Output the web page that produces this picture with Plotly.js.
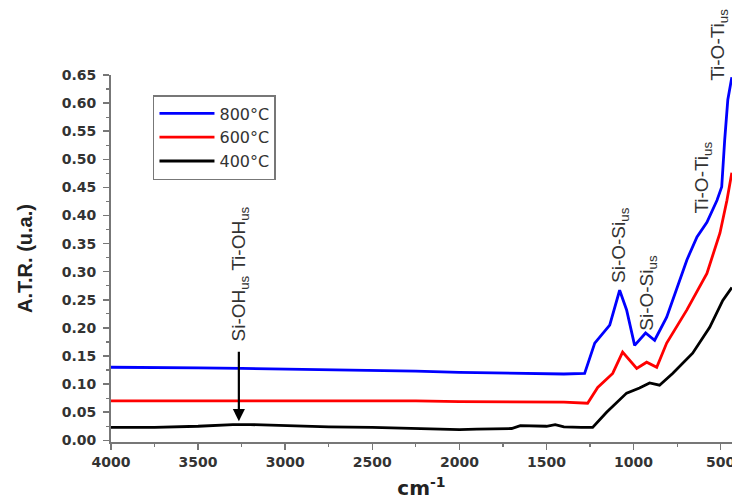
<!DOCTYPE html>
<html>
<head>
<meta charset="utf-8">
<script src="https://cdn.plot.ly/plotly-3.0.1.min.js"></script>
<style>html,body{margin:0;padding:0;background:#fff;}#chart{width:732px;height:500px;}</style>
</head>
<body>
<div id="chart"></div>
<script>
// Wavenumber (cm-1) and A.T.R. values
const wn800 = [4000, 3750, 3500, 3250, 3000, 2750, 2500, 2250, 2000, 1750, 1500, 1400, 1281, 1223, 1137, 1080, 1040, 994, 931, 879, 810, 694, 636, 579, 521, 494, 477, 459, 436];
const atr800 = [0.130, 0.130, 0.129, 0.128, 0.127, 0.125, 0.124, 0.123, 0.121, 0.120, 0.119, 0.118, 0.119, 0.173, 0.205, 0.267, 0.232, 0.169, 0.191, 0.178, 0.219, 0.321, 0.362, 0.388, 0.427, 0.451, 0.534, 0.606, 0.646];

const wn600 = [4000, 3750, 3500, 3250, 3000, 2750, 2500, 2250, 2000, 1750, 1500, 1400, 1264, 1206, 1120, 1063, 982, 925, 867, 810, 694, 579, 504, 464, 436];
const atr600 = [0.070, 0.070, 0.071, 0.071, 0.071, 0.070, 0.070, 0.070, 0.069, 0.069, 0.069, 0.068, 0.066, 0.094, 0.119, 0.157, 0.128, 0.139, 0.130, 0.173, 0.232, 0.297, 0.369, 0.427, 0.476];

const wn400 = [4000, 3750, 3500, 3300, 3200, 3000, 2750, 2500, 2250, 2000, 1900, 1700, 1650, 1500, 1450, 1400, 1300, 1235, 1155, 1040, 966, 908, 851, 776, 661, 563, 488, 436];
const atr400 = [0.023, 0.023, 0.025, 0.028, 0.028, 0.026, 0.024, 0.023, 0.021, 0.019, 0.020, 0.021, 0.026, 0.025, 0.028, 0.024, 0.023, 0.023, 0.050, 0.084, 0.093, 0.102, 0.098, 0.119, 0.155, 0.201, 0.249, 0.272];

const seriesNames = ['800°C', '600°C', '400°C'];
const xTickVals = [4000, 3500, 3000, 2500, 2000, 1500, 1000, 500];
const yTickVals = [0, 0.05, 0.10, 0.15, 0.20, 0.25, 0.30, 0.35, 0.40, 0.45, 0.50, 0.55, 0.60, 0.65];

// Band labels (x in cm-1, y in A.T.R. units)
const bandText = ['Si-OH<sub>us</sub> Ti-OH<sub>us</sub>', 'Si-O-Si<sub>us</sub>', 'Si-O-Si<sub>us</sub>', 'Ti-O-Ti<sub>us</sub>', 'Ti-O-Ti<sub>us</sub>'];
const bandX = [3262, 1074, 919, 603, 506];
const bandY = [0.296, 0.347, 0.262, 0.467, 0.703];
const arrowX = 3266, arrowY = 0.034;

const XRANGE = [4000, 435];
const YRANGE = [-0.003, 0.65];
const toPaperY = v => (v - YRANGE[0]) / (YRANGE[1] - YRANGE[0]);

const ARIAL = 'Arial, "Liberation Sans", sans-serif';
const WIDE = '"DejaVu Sans", Verdana, sans-serif';
const colors = ['#0000ff', '#ff0000', '#000000'];

const traces = [
  {x: wn800, y: atr800, name: seriesNames[0]},
  {x: wn600, y: atr600, name: seriesNames[1]},
  {x: wn400, y: atr400, name: seriesNames[2]}
].map((t, i) => Object.assign(t, {type: 'scatter', mode: 'lines', line: {color: colors[i], width: 2.8}}));

const annotations = bandText.map((t, i) => ({
  x: bandX[i], y: toPaperY(bandY[i]), xref: 'x', yref: 'paper', text: t, showarrow: false,
  textangle: -90, xanchor: 'center', yanchor: 'middle',
  font: {family: ARIAL, size: 19, color: '#333'}
}));
annotations.push({
  x: arrowX, y: arrowY, xref: 'x', yref: 'y', text: '', showarrow: true,
  ax: 0, ay: -71, arrowhead: 2, arrowsize: 1.1, arrowwidth: 2.2, arrowcolor: '#000'
});

const layout = {
  width: 732, height: 500,
  margin: {l: 111, r: 0, t: 75, b: 58},
  paper_bgcolor: '#fff', plot_bgcolor: '#fff',
  showlegend: true,
  legend: {
    x: 0.0676, y: 0.9455, xanchor: 'left', yanchor: 'top',
    bordercolor: '#777', borderwidth: 1.5, bgcolor: '#fff',
    font: {family: WIDE, size: 16, color: '#333'},
    itemwidth: 55,
    tracegroupgap: 0
  },
  xaxis: {
    range: XRANGE, tickvals: xTickVals, ticktext: xTickVals.map(String),
    ticklabeloverflow: 'allow',
    showgrid: false, zeroline: false, showline: true, linecolor: '#777', linewidth: 2,
    ticks: 'outside', ticklen: 6, tickwidth: 1.5, tickcolor: '#777',
    minor: {dtick: 250, ticks: 'outside', ticklen: 3, tickwidth: 1.2, tickcolor: '#777', showgrid: false},
    tickfont: {family: WIDE, size: 14, color: '#333', weight: 'bold'},
    title: {text: 'cm<sup>-1</sup>', font: {family: WIDE, size: 20, color: '#222', weight: 'bold'}, standoff: 17}
  },
  yaxis: {
    range: YRANGE, tickvals: yTickVals, ticktext: yTickVals.map(v => v.toFixed(2)),
    showgrid: false, zeroline: false, showline: true, linecolor: '#777', linewidth: 2,
    ticks: 'outside', ticklen: 6, tickwidth: 1.5, tickcolor: '#777', ticklabelstandoff: 4,
    minor: {dtick: 0.025, tick0: 0, ticks: 'outside', ticklen: 3, tickwidth: 1.2, tickcolor: '#777', showgrid: false},
    tickfont: {family: WIDE, size: 14, color: '#333', weight: 'bold'},
    title: {text: 'A.T.R. (u.a.)', font: {family: ARIAL, size: 20, color: '#222', weight: 'bold'}, standoff: 24}
  },
  annotations: annotations
};

Plotly.newPlot('chart', traces, layout, {displayModeBar: false, staticPlot: true});
</script>
</body>
</html>
